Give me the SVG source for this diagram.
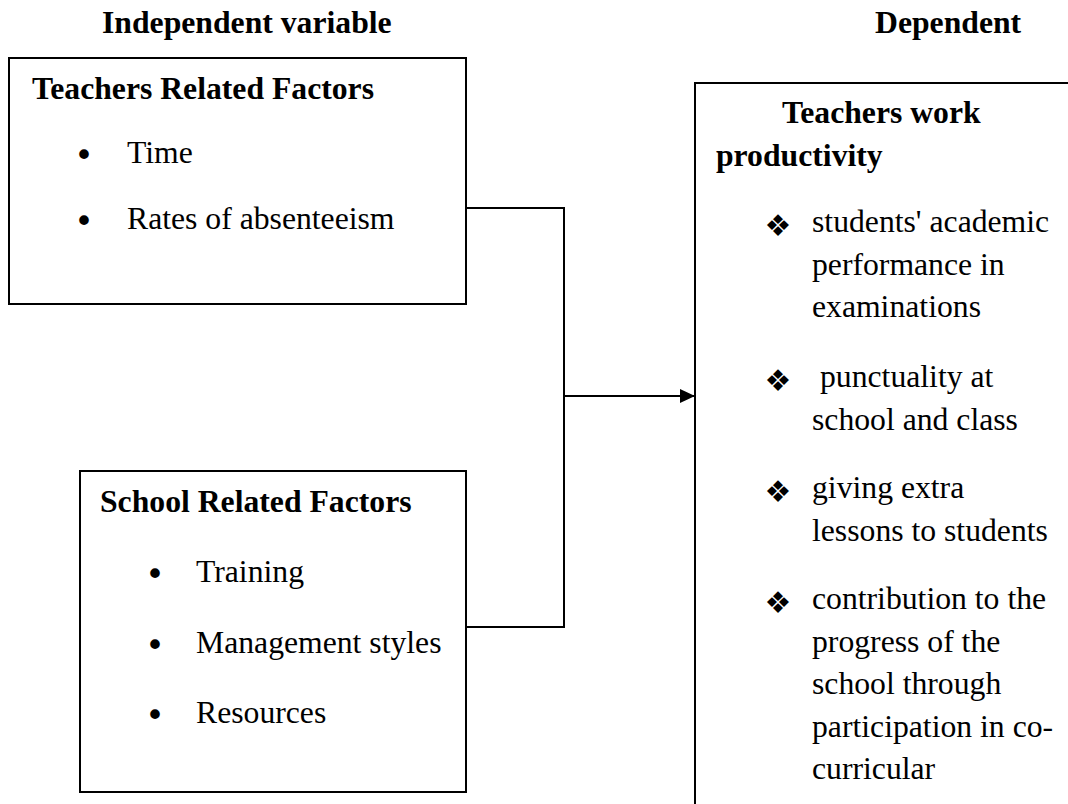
<svg xmlns="http://www.w3.org/2000/svg" width="1068" height="804" viewBox="0 0 1068 804">
<defs>
<style>
.box{fill:#fff;stroke:#000;stroke-width:2}
.con{fill:none;stroke:#000;stroke-width:2}
.t{font-family:"Liberation Serif","Times New Roman",serif;font-size:31.7px;fill:#000}
.b{font-weight:bold}
.bul{font-family:"DejaVu Sans",sans-serif;font-size:33px;fill:#000}
.dia{font-family:"DejaVu Sans",sans-serif;font-size:30px;fill:#000}
</style>
<marker id="arr" markerWidth="16" markerHeight="14" refX="15" refY="7" orient="auto" markerUnits="userSpaceOnUse">
<path d="M0,0 L15,7 L0,14 Z" fill="#000"/>
</marker>
</defs>
<rect width="1068" height="804" fill="#fff"/>
<g id="titles">
<text class="t b" x="102" y="33">Independent variable</text>
<text class="t b" x="875" y="33">Dependent</text>
</g>
<g id="connectors">
<polyline class="con" points="466,208 564,208 564,627 466,627"/>
<line class="con" x1="564" y1="396" x2="695" y2="396" marker-end="url(#arr)"/>
</g>
<g id="teachers-factors">
<rect class="box" x="9" y="58" width="457" height="246"/>
<text class="t b" x="32" y="99">Teachers Related Factors</text>
<text class="bul" x="84" y="167" text-anchor="middle">•</text>
<text class="t" x="127" y="163">Time</text>
<text class="bul" x="84" y="233" text-anchor="middle">•</text>
<text class="t" x="127" y="229">Rates of absenteeism</text>
</g>
<g id="school-factors">
<rect class="box" x="80" y="471" width="386" height="321"/>
<text class="t b" x="100" y="512">School Related Factors</text>
<text class="bul" x="155" y="586" text-anchor="middle">•</text>
<text class="t" x="196" y="582">Training</text>
<text class="bul" x="155" y="657" text-anchor="middle">•</text>
<text class="t" x="196" y="653">Management styles</text>
<text class="bul" x="155" y="727" text-anchor="middle">•</text>
<text class="t" x="196" y="723">Resources</text>
</g>
<g id="productivity">
<path class="box" d="M1070,83 L695,83 L695,806"/>
<text class="t b" x="782" y="123">Teachers work</text>
<text class="t b" x="716" y="166">productivity</text>
<text class="dia" x="778" y="235.5" text-anchor="middle">❖</text>
<text class="t" x="812" y="232">students' academic</text>
<text class="t" x="812" y="274.5">performance in</text>
<text class="t" x="812" y="317">examinations</text>
<text class="dia" x="778" y="390.5" text-anchor="middle">❖</text>
<text class="t" x="820" y="387">punctuality at</text>
<text class="t" x="812" y="429.5">school and class</text>
<text class="dia" x="778" y="501.5" text-anchor="middle">❖</text>
<text class="t" x="812" y="498">giving extra</text>
<text class="t" x="812" y="540.5">lessons to students</text>
<text class="dia" x="778" y="612.5" text-anchor="middle">❖</text>
<text class="t" x="812" y="609">contribution to the</text>
<text class="t" x="812" y="651.5">progress of the</text>
<text class="t" x="812" y="694">school through</text>
<text class="t" x="812" y="736.5">participation in co-</text>
<text class="t" x="812" y="779">curricular</text>
</g>
</svg>
